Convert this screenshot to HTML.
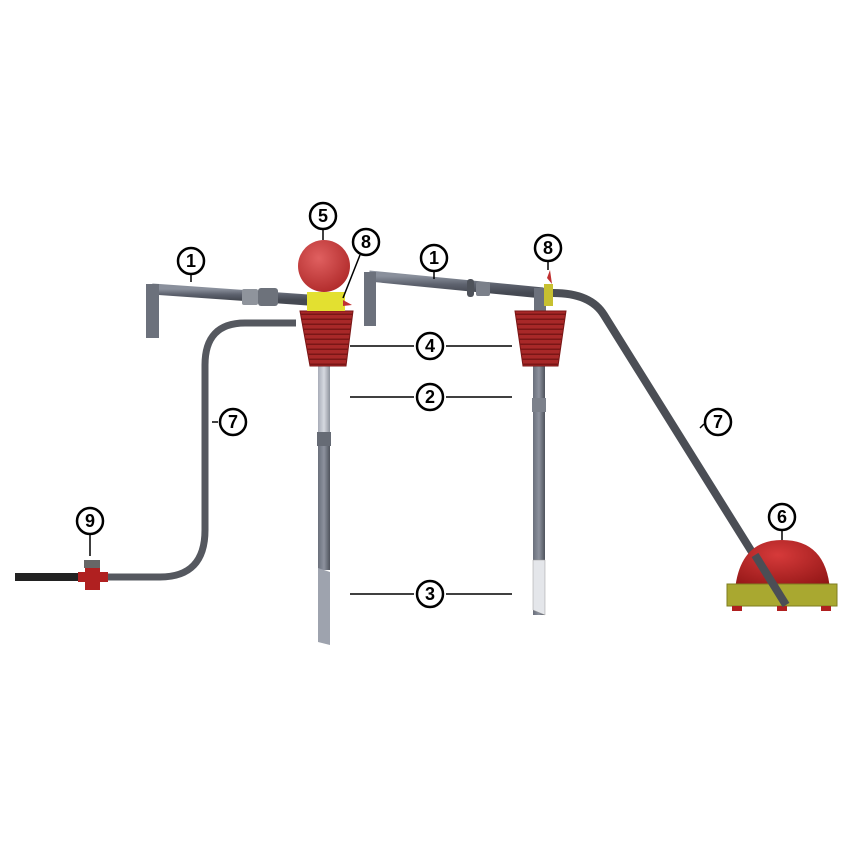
<!DOCTYPE html>
<html><head><meta charset="utf-8"><style>html,body{margin:0;padding:0;background:#fff}svg{display:block}</style></head>
<body>
<svg width="854" height="854" viewBox="0 0 854 854" xmlns="http://www.w3.org/2000/svg" font-family="Liberation Sans, sans-serif">
<defs>
<linearGradient id="pipe" x1="0" y1="0" x2="0" y2="1"><stop offset="0" stop-color="#8a909c"/><stop offset="0.5" stop-color="#5d626e"/><stop offset="1" stop-color="#454952"/></linearGradient>
<linearGradient id="vt" x1="0" y1="0" x2="1" y2="0"><stop offset="0" stop-color="#6a6f7b"/><stop offset="0.5" stop-color="#8d929e"/><stop offset="1" stop-color="#4e535c"/></linearGradient>
<linearGradient id="vl" x1="0" y1="0" x2="1" y2="0"><stop offset="0" stop-color="#a8adb8"/><stop offset="0.5" stop-color="#d6d9e0"/><stop offset="1" stop-color="#8d929c"/></linearGradient>
<radialGradient id="ball" cx="0.4" cy="0.35" r="0.7"><stop offset="0" stop-color="#e06060"/><stop offset="1" stop-color="#b02a2a"/></radialGradient>
<radialGradient id="dome" cx="0.45" cy="0.3" r="0.8"><stop offset="0" stop-color="#d63a3a"/><stop offset="1" stop-color="#8e1414"/></radialGradient>
<pattern id="cup" width="10" height="5" patternUnits="userSpaceOnUse"><rect width="10" height="5" fill="#a82828"/><rect y="3.5" width="10" height="1.5" fill="#7a1616"/></pattern>
</defs>
<g id="left">
<!-- pipe 1 left -->
<path d="M152 289 L308 300" stroke="url(#pipe)" stroke-width="11" fill="none"/>
<rect x="146" y="284" width="13" height="54" fill="#6c717c"/>
<rect x="242" y="289" width="16" height="16" rx="2" fill="#8f949c"/>
<rect x="258" y="288" width="20" height="18" rx="3" fill="#6d727b"/>
<!-- hose 7 left -->
<path d="M296 323 L245 323 Q205 323 205 365 L205 530 Q205 577 160 577 L15 577" stroke="#55585f" stroke-width="7" fill="none"/>
<path d="M15 577 L80 577" stroke="#222" stroke-width="8"/>
<rect x="85" y="565" width="15" height="25" fill="#b02020"/>
<rect x="78" y="572" width="30" height="10" fill="#b02020"/>
<rect x="84" y="560" width="16" height="8" fill="#666"/>
<!-- tube -->
<rect x="318" y="365" width="12" height="70" fill="url(#vl)"/>
<rect x="317" y="432" width="14" height="14" fill="#666b75"/>
<rect x="318" y="446" width="12" height="124" fill="url(#vt)"/>
<path d="M318 568 L330 572 L330 645 L318 642 Z" fill="#9ea3ae"/>
<!-- cup -->
<path d="M300 311 L353 311 L346 366 L310 366 Z" fill="url(#cup)" stroke="#7a1616"/>
<rect x="307" y="292" width="38" height="19" fill="#e3e030"/>
<circle cx="324" cy="266" r="26" fill="url(#ball)"/>
<path d="M343 300 L352 305 L343 306 Z" fill="#c03030"/>
</g>
<g id="right">
<path d="M369 276 L543 293" stroke="url(#pipe)" stroke-width="11" fill="none"/>
<rect x="364" y="272" width="12" height="54" fill="#6c717c"/>
<rect x="467" y="279" width="7" height="18" rx="3" fill="#4e525a"/>
<rect x="476" y="282" width="14" height="14" rx="2" fill="#7b808a"/>
<rect x="534" y="288" width="12" height="25" fill="#6c717c"/>
<path d="M550 293 Q590 292 604 315 L785 605" stroke="#4b4e55" stroke-width="8" fill="none"/>
<rect x="544" y="284" width="9" height="22" fill="#c7c030"/>
<path d="M547 278 L550 270 L552 284 Z" fill="#c03030"/>
<rect x="533" y="365" width="12" height="250" fill="url(#vt)"/>
<rect x="532" y="398" width="14" height="14" fill="#7c818b"/>
<path d="M533 560 L545 560 L545 615 L533 610 Z" fill="#e4e6ea" stroke="#999" stroke-width="0.5"/>
<path d="M515 311 L566 311 L558 366 L523 366 Z" fill="url(#cup)" stroke="#7a1616"/>
<!-- dome 6 -->
<path d="M735 590 Q740 540 782 540 Q826 540 830 590 Z" fill="url(#dome)"/>
<rect x="727" y="584" width="110" height="22" fill="#a9a830" stroke="#7e7d20"/>
<rect x="732" y="606" width="10" height="5" fill="#b02020"/>
<rect x="777" y="606" width="10" height="5" fill="#b02020"/>
<rect x="821" y="606" width="10" height="5" fill="#b02020"/>
<path d="M755 555 L786 605" stroke="#4b4e55" stroke-width="8"/>
</g>
<g stroke="#000" stroke-width="1.5">
<line x1="350" y1="346" x2="414" y2="346"/><line x1="446" y1="346" x2="512" y2="346"/>
<line x1="350" y1="397" x2="414" y2="397"/><line x1="446" y1="397" x2="512" y2="397"/>
<line x1="350" y1="594" x2="414" y2="594"/><line x1="446" y1="594" x2="512" y2="594"/>
<line x1="191" y1="275" x2="191" y2="282"/><line x1="434" y1="272" x2="434" y2="279"/>
<line x1="323" y1="230" x2="323" y2="240"/><line x1="360" y1="255" x2="343" y2="298"/>
<line x1="548" y1="262" x2="548" y2="270"/><line x1="90" y1="535" x2="90" y2="556"/>
<line x1="212" y1="422" x2="218" y2="422"/><line x1="700" y1="428" x2="704" y2="424"/>
<line x1="782" y1="531" x2="782" y2="540"/>
</g>
<g fill="#fff" stroke="#000" stroke-width="2.5">
<circle cx="191" cy="261" r="13"/><circle cx="434" cy="258" r="13"/>
<circle cx="323" cy="216" r="13"/><circle cx="366" cy="242" r="13"/>
<circle cx="548" cy="248" r="13"/><circle cx="430" cy="346" r="13"/>
<circle cx="430" cy="397" r="13"/><circle cx="430" cy="594" r="13"/>
<circle cx="233" cy="422" r="13"/><circle cx="718" cy="422" r="13"/>
<circle cx="782" cy="517" r="13"/><circle cx="90" cy="521" r="13"/>
</g>
<g font-size="18" font-weight="bold" text-anchor="middle" fill="#000">
<text x="191" y="267">1</text><text x="434" y="264">1</text>
<text x="323" y="222">5</text><text x="366" y="248">8</text>
<text x="548" y="254">8</text><text x="430" y="352">4</text>
<text x="430" y="403">2</text><text x="430" y="600">3</text>
<text x="233" y="428">7</text><text x="718" y="428">7</text>
<text x="782" y="523">6</text><text x="90" y="527">9</text>
</g>
</svg>
</body></html>
